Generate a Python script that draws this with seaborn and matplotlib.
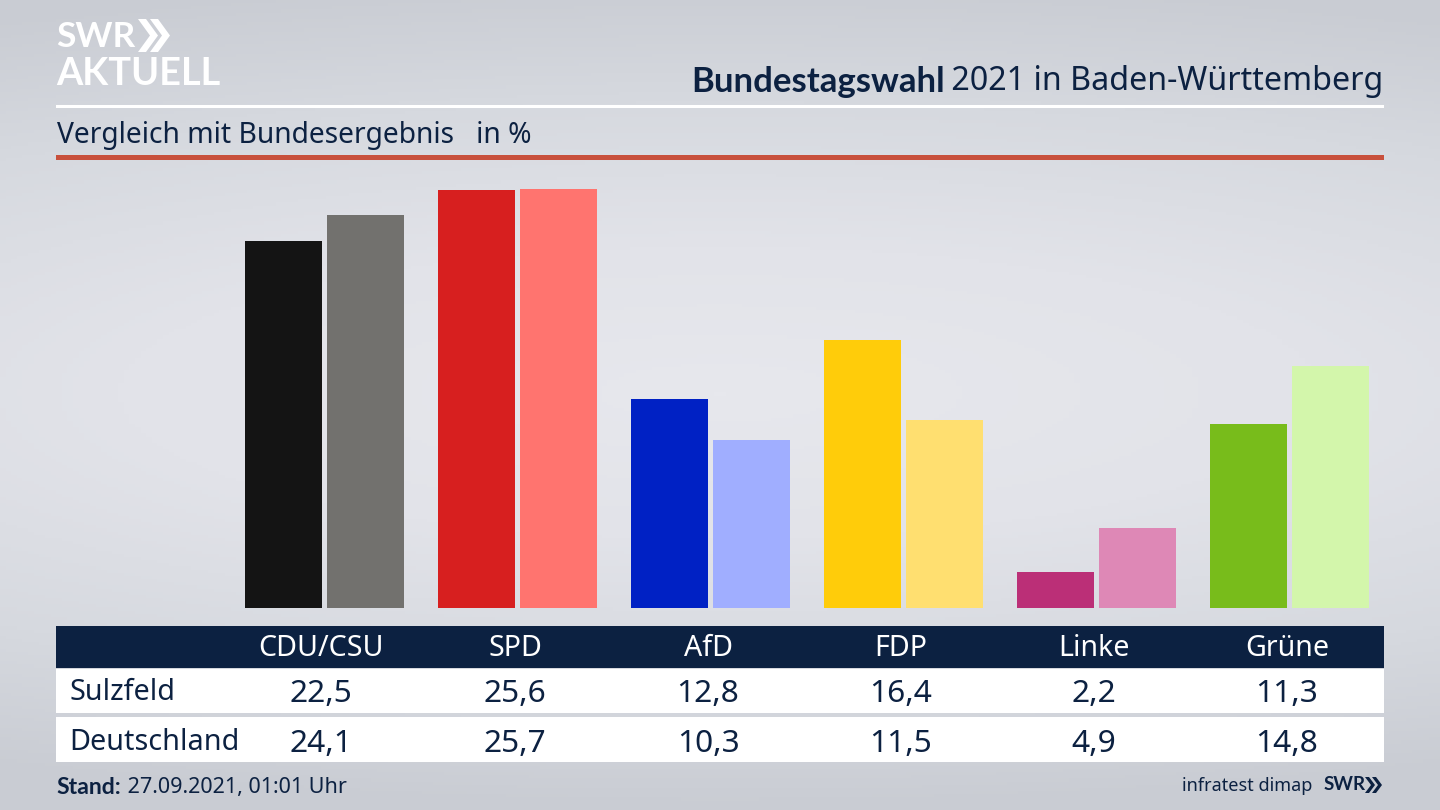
import numpy as np
import pandas as pd
import matplotlib
matplotlib.use("Agg")
import matplotlib.pyplot as plt
from matplotlib import font_manager as fm
from matplotlib.colors import LinearSegmentedColormap
from matplotlib.patches import Rectangle, Polygon
import seaborn as sns

parties = ["CDU/CSU", "SPD", "AfD", "FDP", "Linke", "Grüne"]
sulzfeld = [22.5, 25.6, 12.8, 16.4, 2.2, 11.3]
deutschland = [24.1, 25.7, 10.3, 11.5, 4.9, 14.8]
colors_sulzfeld = ["#141414", "#d71f1f", "#0021c4", "#ffcc0a", "#bb2f77", "#78bc1b"]
colors_deutschland = ["#72716e", "#ff746f", "#a0aeff", "#ffdf70", "#de88b6", "#d3f6ab"]
series_names = ["Sulzfeld", "Deutschland"]
title_bold = "Bundestagswahl"
title_rest = " 2021 in Baden-Württemberg"
subtitle = "Vergleich mit Bundesergebnis   in %"
stand_bold = "Stand:"
stand_rest = " 27.09.2021, 01:01 Uhr"

W, H = 1440, 810
NAVY = "#0c2141"
sns.set_theme(style="white")
plt.rcParams["font.family"] = ["Noto Sans", "DejaVu Sans"]

# pick a family that really ships a bold face
bold_family = "DejaVu Sans"
for fam in ["Lato", "Roboto", "Open Sans", "Liberation Sans"]:
    if any(f.name == fam and (f.weight == "bold" or f.weight == 700) for f in fm.fontManager.ttflist):
        bold_family = fam
        break

fig = plt.figure(figsize=(W / 100, H / 100), dpi=100)

# background gradient: light centre, darker towards all edges
bg = fig.add_axes([0, 0, 1, 1], zorder=0)
stops = [(0.0, "#e7e8ed"), (0.35, "#e2e3e9"), (0.7, "#d6d9df"), (1.0, "#c9ccd3")]
cmap = LinearSegmentedColormap.from_list("bg", stops)
yy = np.linspace(-1, 1, 256)[:, None]
xx = np.linspace(-1, 1, 256)[None, :]
field = np.sqrt(((yy + 0.03) * 0.97) ** 2 + (0.42 * xx) ** 2)
bg.imshow(field, aspect="auto", cmap=cmap, vmin=0, vmax=1, extent=(0, W, H, 0))
bg.set_xlim(0, W)
bg.set_ylim(H, 0)
bg.axis("off")

def rect(x0, y0, x1, y1, color):
    bg.add_patch(Rectangle((x0, y0), x1 - x0, y1 - y0, color=color, lw=0))

def chevrons(x, y0, y1, w, step, color, t):
    mid = (y0 + y1) / 2
    for i in range(2):
        x0 = x + i * step
        bg.add_patch(Polygon([(x0, y0), (x0 + t, y0), (x0 + w, mid), (x0 + t, y1), (x0, y1),
                              (x0 + w - t, mid)], closed=True, color=color, lw=0))

rect(56, 105, 1384, 108, "white")
rect(56, 155, 1384, 160, "#c8503c")
rect(56, 626, 1384, 668, NAVY)
rect(56, 669, 1384, 713, "white")
rect(56, 717, 1384, 762, "white")

# bars
AX_L, AX_R, AX_T, AX_B = 228, 1386, 170, 608
ax = fig.add_axes([AX_L / W, 1 - AX_B / H, (AX_R - AX_L) / W, (AX_B - AX_T) / H], zorder=1)
ax.patch.set_alpha(0)
df = pd.DataFrame({
    "Partei": parties * 2,
    "Wert": sulzfeld + deutschland,
    "Gebiet": [series_names[0]] * 6 + [series_names[1]] * 6,
})
sns.barplot(data=df, x="Partei", y="Wert", hue="Gebiet", order=parties, hue_order=series_names,
            width=0.849, gap=0.061, legend=False, ax=ax, linewidth=0, saturation=1)
for patch, c in zip(ax.patches, colors_sulzfeld + colors_deutschland):
    patch.set_facecolor(c)
    patch.set_edgecolor("none")
ax.set_xlim(-0.5, 5.5)
ax.set_ylim(0, (AX_B - AX_T) / 16.32)
ax.axis("off")

# text
def txt(x, y, s, size, color=NAVY, ha="left", bold=False):
    if bold:
        return bg.text(x, y, s, fontsize=size, color=color, ha=ha, va="center",
                       fontweight="bold", family=bold_family)
    return bg.text(x, y, s, fontsize=size, color=color, ha=ha, va="center")

renderer = fig.canvas.get_renderer()
t2 = txt(1383, 81.5, title_rest, 23.2, ha="right")
txt(945, 81.5, title_bold, 25, ha="right", bold=True)
txt(57, 135, subtitle, 20.3)

txt(56, 37, "SWR", 25.5, color="white", bold=True)
chevrons(138, 19, 52, 20, 12, "white", 8)
txt(56, 74, "AKTUELL", 27.3, color="white", bold=True)

centers = [321, 515, 708, 901, 1094, 1287]
for cx, p, a, b in zip(centers, parties, sulzfeld, deutschland):
    txt(cx, 648, p, 20.6, color="white", ha="center")
    txt(cx, 694, f"{a:.1f}".replace(".", ","), 22.8, ha="center")
    txt(cx, 744, f"{b:.1f}".replace(".", ","), 22.8, ha="center")
txt(69.5, 693, series_names[0], 20.7)
txt(69.5, 743, series_names[1], 20.7)

s1 = txt(56, 787, stand_bold, 16.6, bold=True)
txt(122, 788, stand_rest, 15.5)
txt(1312, 786, "infratest dimap", 13, ha="right")
txt(1324, 785, "SWR", 13.5, bold=True)
chevrons(1365, 777, 793, 10, 7, NAVY, 4)

fig.savefig("out.png", dpi=100)
